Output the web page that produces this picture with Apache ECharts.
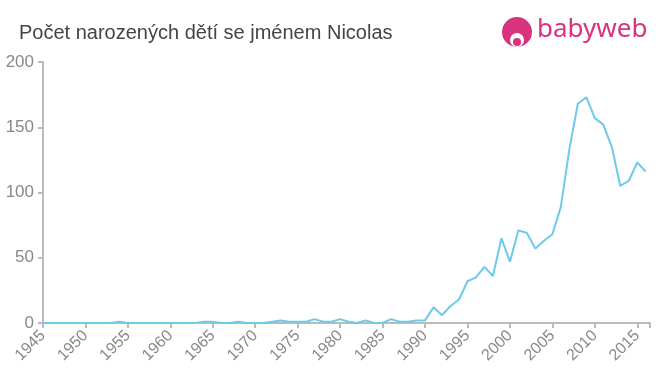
<!DOCTYPE html>
<html><head><meta charset="utf-8">
<script src="https://cdn.jsdelivr.net/npm/echarts@6/dist/echarts.min.js"></script>
<style>html,body{margin:0;padding:0;background:#fff}#c{width:660px;height:375px}</style>
</head><body><div id="c"></div>
<script>
const years = [];
for (let y = 1945; y <= 2016; y++) years.push(y);
const counts = [
  0,0,0,0,0, 0,0,0,0,1, 0,0,0,0,0, 0,0,0,0,1, // 1945-1964
  1,0,0,1,0, 0,0,1,2,1, 1,1,3,1,1, 3,1,0,2,0, // 1965-1984
  0,3,1,1,2, 2,12,6,13,18, 32,35,43,36,65, 47,71,69,57,63, // 1985-2004
  68,89,133,168,173, 157,152,135,105,109, 123,116 // 2005-2016
];
const yTicks = [0,50,100,150,200];
const title = 'Počet narozených dětí se jménem Nicolas';

const chart = echarts.init(document.getElementById('c'));
chart.setOption({
  animation: false,
  title: { text: title, left: 14, top: 18, textStyle: { fontFamily: 'Liberation Sans, Arial, sans-serif', fontSize: 20, fontWeight: 'normal', color: '#444' } },
  graphic: [
    { type: 'circle', shape: { cx: 517, cy: 32, r: 15 }, style: { fill: '#d8337e' } },
    { type: 'circle', shape: { cx: 517, cy: 40, r: 7 }, style: { fill: '#fff' } },
    { type: 'circle', shape: { cx: 517, cy: 42, r: 4 }, style: { fill: '#d8337e' } },
    { type: 'text', left: 537, top: 17, style: { text: 'babyweb', fill: '#d8337e', font: '26px "Noto Sans", Arial, sans-serif' } }
  ],
  grid: { left: 43, right: 10, top: 62, bottom: 52 },
  xAxis: {
    type: 'value', min: 1945, max: 2016.5, interval: 5,
    axisLine: { lineStyle: { color: '#bbb', width: 2 } },
    axisTick: { show: true, length: 5, lineStyle: { color: '#bbb', width: 2 } },
    splitLine: { show: false },
    axisLabel: { rotate: 45, color: '#888', fontSize: 16, fontFamily: 'Liberation Sans, Arial, sans-serif', margin: 10,
      formatter: v => (v % 5 === 0 ? String(v) : '') }
  },
  yAxis: {
    type: 'value', min: 0, max: 200, interval: 50,
    axisLine: { show: true, lineStyle: { color: '#bbb', width: 2 } },
    axisTick: { show: true, length: 5, lineStyle: { color: '#bbb', width: 2 } },
    splitLine: { show: false },
    axisLabel: { color: '#888', fontSize: 17, fontFamily: 'Liberation Sans, Arial, sans-serif', margin: 9,
      formatter: v => (yTicks.includes(v) ? String(v) : '') }
  },
  series: [{
    type: 'line', data: years.map((y, i) => [y, counts[i]]),
    showSymbol: false, lineStyle: { color: '#6dcaea', width: 2 }, itemStyle: { color: '#6dcaea' }
  }]
});
</script></body></html>
